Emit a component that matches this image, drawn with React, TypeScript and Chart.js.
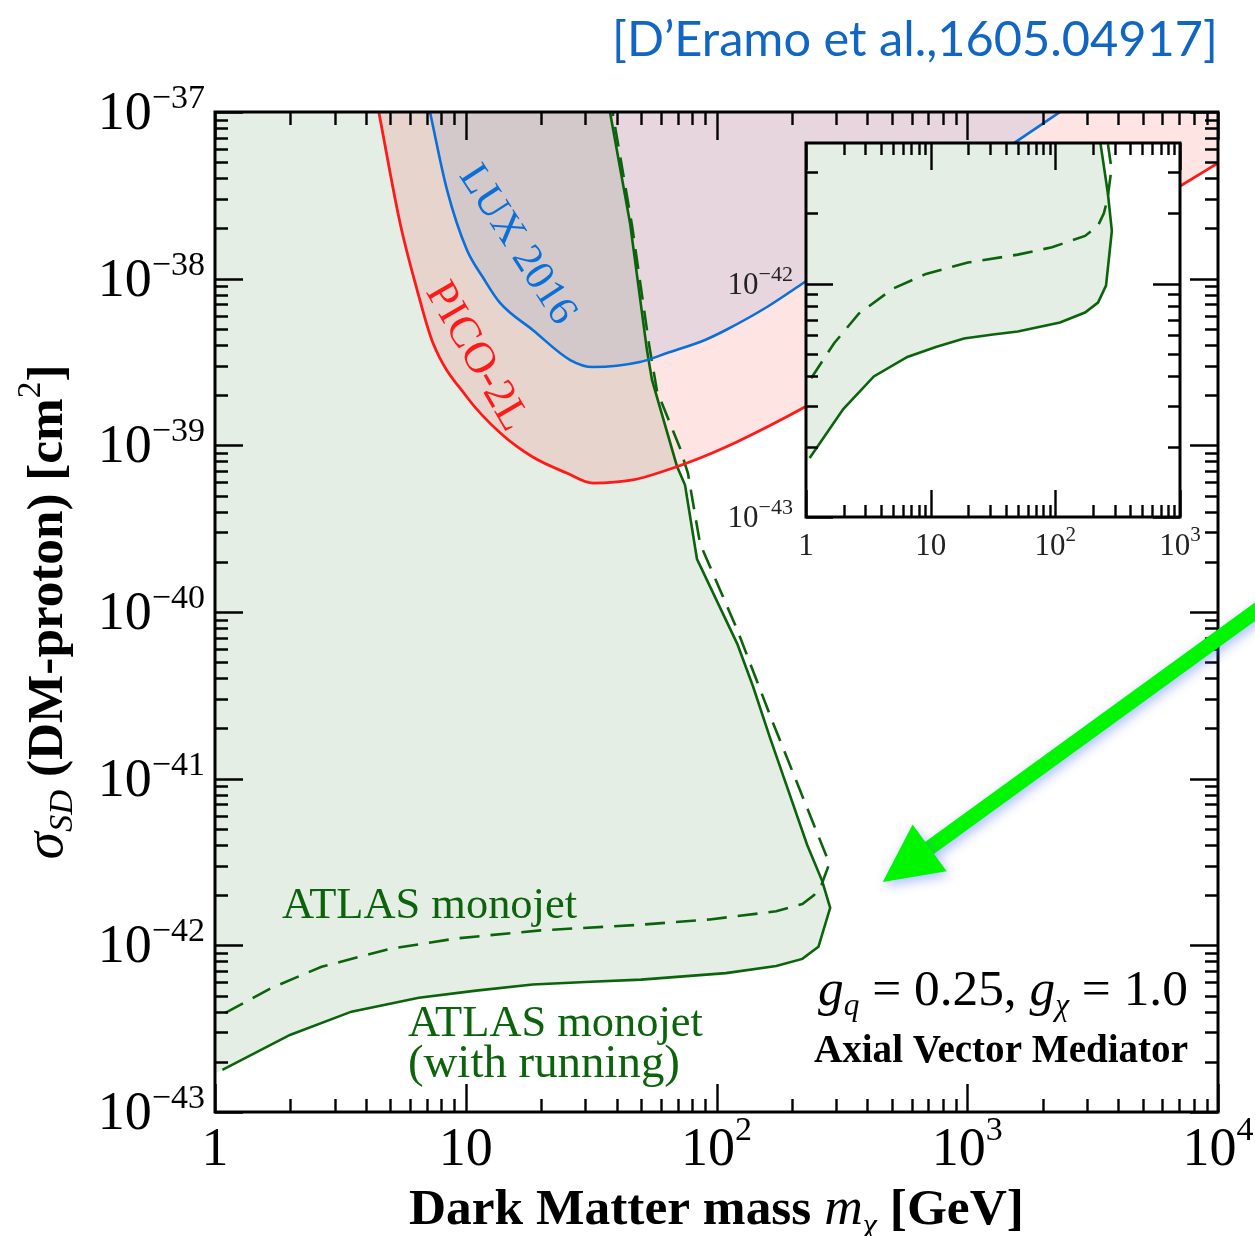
import React, { useEffect, useRef } from 'react';
import { Chart, registerables } from 'chart.js';

Chart.register(...registerables);

// ---- Limits on the spin-dependent DM-proton cross section (mass in GeV, sigma in cm^2) ----

// PICO-2L
const picoMass = [4.5, 5.47, 6.4, 7.4, 10.1, 13.7, 18.5, 25.3, 32.2, 46.4, 63.5, 86, 109, 159, 225, 1000, 3000, 7180, 10000];
const picoSigma = [1e-37, 2.16e-38, 8.55e-39, 4.11e-39, 1.95e-39, 1.19e-39, 8.51e-40, 6.82e-40, 5.94e-40, 6.2e-40, 7.11e-40, 8.4e-40, 9.77e-40, 1.29e-39, 1.7e-39, 6.4e-39, 1.68e-38, 3.65e-38, 4.94e-38];

// LUX 2016
const luxMass = [7.2, 8.42, 10.1, 11.7, 13.7, 18.5, 26.1, 32.2, 49.5, 63.5, 90, 109, 159, 225, 500, 1536, 2344];
const luxSigma = [1e-37, 3.41e-38, 1.49e-38, 1.02e-38, 7.15e-39, 4.92e-39, 3.25e-39, 2.95e-39, 3.16e-39, 3.58e-39, 4.29e-39, 4.92e-39, 6.76e-39, 9.55e-39, 2.12e-38, 6.5e-38, 1e-37];

// ATLAS monojet, with running of the couplings (solid)
const atlasRunMass = [1.07, 1.99, 3.5, 6.5, 11, 18.5, 31.6, 50, 109, 173, 220, 255, 284, 264, 230, 163, 140, 121, 83.6, 74.9, 69.5, 55.3, 52.8, 45.2, 37.6];
const atlasRunSigma = [1.79e-43, 2.9e-43, 4.0e-43, 4.85e-43, 5.35e-43, 5.82e-43, 6.05e-43, 6.23e-43, 6.81e-43, 7.51e-43, 8.29e-43, 9.8e-43, 1.68e-42, 2.43e-42, 4.0e-42, 1.78e-41, 3.56e-41, 6.44e-41, 2.08e-40, 5.78e-40, 7.52e-40, 2.47e-39, 3.73e-39, 2.16e-38, 1e-37];

// ATLAS monojet, no running (dashed)
const atlasMass = [1.1, 1.68, 2.66, 4.99, 9.17, 19.9, 50, 94, 173, 220, 245, 262, 282, 168, 121, 86, 83.6, 76.9, 71.5, 57.9, 54, 46, 38.5];
const atlasSigma = [3.93e-43, 5.55e-43, 7.44e-43, 9.52e-43, 1.1e-42, 1.23e-42, 1.33e-42, 1.43e-42, 1.6e-42, 1.77e-42, 2.0e-42, 2.3e-42, 3.1e-42, 2.16e-41, 7.82e-41, 2.57e-40, 3.28e-40, 6.82e-40, 9.64e-40, 2.12e-39, 3.9e-39, 2.1e-38, 1e-37];

// ---- Axis ticks ----
const xTickValues = [1, 10, 100, 1000, 10000];
const xTickLabels: [string, string][] = [['1', ''], ['10', ''], ['10', '2'], ['10', '3'], ['10', '4']];
const yTickValues = [1e-43, 1e-42, 1e-41, 1e-40, 1e-39, 1e-38, 1e-37];
const yTickExponents = ['−43', '−42', '−41', '−40', '−39', '−38', '−37'];

const insetXTickValues = [1, 10, 100, 1000];
const insetXTickLabels: [string, string][] = [['1', ''], ['10', ''], ['10', '2'], ['10', '3']];
const insetYTickValues = [1e-43, 1e-42];
const insetYTickExponents = ['−43', '−42'];
const insetYMax = 4e-42;

const SERIF = '"Liberation Serif", "Times New Roman", serif';
const GREEN_LINE = '#0b640b';
const RED_LINE = '#ff1a1a';
const BLUE_LINE = '#0a6fd8';

const pts = (xs: number[], ys: number[]) => xs.map((x, i) => ({ x, y: ys[i] }));

// minor ticks 2..9 inside every decade of a list of powers of ten
const minorsOf = (decades: number[], upTo: number) => {
  const out: number[] = [];
  for (const d of decades) for (let k = 2; k <= 9; k++) if (k * d < upTo * 0.999) out.push(k * d);
  return out;
};

type Run = { text: string; size: number; italic?: boolean; bold?: boolean; dy?: number; family?: string };

const runFont = (r: Run, k: number) =>
  `${r.italic ? 'italic ' : ''}${r.bold ? 'bold ' : ''}${(r.size * k).toFixed(2)}px ${r.family ?? SERIF}`;

function drawRuns(ctx: CanvasRenderingContext2D, runs: Run[], x: number, y: number, align: 'left' | 'center' | 'right', width?: number) {
  ctx.save();
  ctx.textAlign = 'left';
  ctx.textBaseline = 'alphabetic';
  let total = 0;
  for (const r of runs) {
    ctx.font = runFont(r, 1);
    total += ctx.measureText(r.text).width;
  }
  const k = width ? width / total : 1;
  const w = total * k;
  let cx = align === 'left' ? x : align === 'center' ? x - w / 2 : x - w;
  for (const r of runs) {
    ctx.font = runFont(r, k);
    ctx.fillText(r.text, cx, y + (r.dy ?? 0) * k);
    cx += ctx.measureText(r.text).width;
  }
  ctx.restore();
}

function drawFrameTicks(chart: any, xMaj: number[], xMin: number[], yMaj: number[], yMin: number[], majLen: number, minLen: number) {
  const { ctx, chartArea: a, scales } = chart;
  const sx = scales.x;
  const sy = scales.y;
  ctx.save();
  ctx.strokeStyle = '#000';
  ctx.lineWidth = 2.4;
  ctx.beginPath();
  const xt = (v: number, len: number) => {
    const p = Math.round(sx.getPixelForValue(v)) + 0.5;
    ctx.moveTo(p, a.bottom);
    ctx.lineTo(p, a.bottom - len);
    ctx.moveTo(p, a.top);
    ctx.lineTo(p, a.top + len);
  };
  const yt = (v: number, len: number) => {
    const p = Math.round(sy.getPixelForValue(v)) + 0.5;
    ctx.moveTo(a.left, p);
    ctx.lineTo(a.left + len, p);
    ctx.moveTo(a.right, p);
    ctx.lineTo(a.right - len, p);
  };
  xMaj.forEach((v) => xt(v, majLen));
  xMin.forEach((v) => xt(v, minLen));
  yMaj.forEach((v) => yt(v, majLen));
  yMin.forEach((v) => yt(v, minLen));
  ctx.stroke();
  ctx.lineWidth = 3;
  ctx.strokeRect(a.left, a.top, a.right - a.left, a.bottom - a.top);
  ctx.restore();
}

// green ATLAS excluded region: solid curve closed along the left edge of the plot
const atlasRegion = [...pts(atlasRunMass, atlasRunSigma), { x: 1, y: 1e-37 }, { x: 1, y: 1.7e-43 }];

const atlasDatasets = () => [
  {
    data: atlasRegion,
    showLine: true,
    fill: 'shape',
    backgroundColor: 'rgba(0, 94, 0, 0.106)',
    borderColor: 'rgba(0,0,0,0)',
    borderWidth: 0,
    pointRadius: 0,
  },
  {
    data: pts(atlasMass, atlasSigma),
    showLine: true,
    fill: false,
    borderColor: GREEN_LINE,
    borderWidth: 2.6,
    borderDash: [20, 11],
    pointRadius: 0,
  },
  {
    data: pts(atlasRunMass, atlasRunSigma),
    showLine: true,
    fill: false,
    borderColor: GREEN_LINE,
    borderWidth: 2.6,
    pointRadius: 0,
  },
];

const mainDecorations = {
  id: 'mainDecorations',
  afterDraw(chart: any) {
    const { ctx, chartArea: a, scales } = chart;
    const sx = scales.x;
    const sy = scales.y;
    const X = (v: number) => sx.getPixelForValue(v);
    const Y = (v: number) => sy.getPixelForValue(v);

    drawFrameTicks(chart, xTickValues, minorsOf(xTickValues, 1e4), yTickValues, minorsOf(yTickValues, 1e-37), 28, 13);

    ctx.save();
    ctx.fillStyle = '#000';
    // tick labels
    yTickValues.forEach((v, i) => {
      const p = Y(v);
      drawRuns(ctx, [{ text: '10', size: 54 }, { text: yTickExponents[i], size: 34, dy: -21 }], a.left - 10, p + 17, 'right');
    });
    xTickValues.forEach((v, i) => {
      const [b, e] = xTickLabels[i];
      const runs: Run[] = [{ text: b, size: 54 }];
      if (e) runs.push({ text: e, size: 34, dy: -25 });
      drawRuns(ctx, runs, X(v), a.bottom + 53, 'center');
    });

    // axis titles
    drawRuns(
      ctx,
      [
        { text: 'Dark Matter mass ', size: 48, bold: true },
        { text: 'm', size: 50, italic: true },
        { text: 'χ', size: 30, italic: true, dy: 10 },
        { text: ' [GeV]', size: 48, bold: true },
      ],
      (a.left + a.right) / 2,
      a.bottom + 112,
      'center',
      615
    );
    ctx.save();
    ctx.translate(62, (a.top + a.bottom) / 2);
    ctx.rotate(-Math.PI / 2);
    drawRuns(
      ctx,
      [
        { text: 'σ', size: 50, italic: true },
        { text: 'SD', size: 31, italic: true, dy: 9 },
        { text: ' (DM-proton) [cm', size: 46, bold: true },
        { text: '2', size: 30, dy: -20 },
        { text: ']', size: 46, bold: true },
      ],
      0,
      0,
      'center',
      495
    );
    ctx.restore();

    // reference tag
    ctx.fillStyle = '#1166c4';
    drawRuns(ctx, [{ text: '[D’Eramo et al.,1605.04917]', size: 50, family: 'Lato, "Open Sans", sans-serif' }], a.right, 56, 'right', 606);

    // curve labels
    const rotated = (text: string, mx: number, my: number, deg: number, size: number, color: string) => {
      ctx.save();
      ctx.translate(X(mx), Y(my));
      ctx.rotate((deg * Math.PI) / 180);
      ctx.fillStyle = color;
      ctx.font = `${size}px ${SERIF}`;
      ctx.textAlign = 'center';
      ctx.textBaseline = 'middle';
      ctx.fillText(text, 0, 0);
      ctx.restore();
    };
    rotated('LUX 2016', 16, 1.59e-38, 57, 42, BLUE_LINE);
    rotated('PICO-2L', 11.0, 3.4e-39, 60, 44, RED_LINE);

    ctx.fillStyle = GREEN_LINE;
    drawRuns(ctx, [{ text: 'ATLAS monojet', size: 44 }], X(1.85), Y(1.46e-42), 'left', 295);
    drawRuns(ctx, [{ text: 'ATLAS monojet', size: 44 }], X(5.88), Y(2.86e-43), 'left', 295);
    drawRuns(ctx, [{ text: '(with running)', size: 44 }], X(5.88), Y(2.86e-43) + 41, 'left', 272);

    ctx.fillStyle = '#000';
    drawRuns(
      ctx,
      [
        { text: 'g', size: 46, italic: true },
        { text: 'q', size: 28, italic: true, dy: 9 },
        { text: ' = 0.25, ', size: 46 },
        { text: 'g', size: 46, italic: true },
        { text: 'χ', size: 28, italic: true, dy: 9 },
        { text: ' = 1.0', size: 46 },
      ],
      X(7590),
      Y(4.4e-43),
      'right',
      370
    );
    drawRuns(ctx, [{ text: 'Axial Vector Mediator', size: 36, bold: true }], X(7590), Y(2.0e-43), 'right', 374);

    // green arrow pointing at the turnover of the ATLAS curves
    const tail = { x: X(14000), y: Y(1e-40) };
    const tip = { x: X(460), y: Y(2.4e-42) };
    const dx = tip.x - tail.x;
    const dy = tip.y - tail.y;
    const len = Math.hypot(dx, dy);
    const ux = dx / len;
    const uy = dy / len;
    const headL = 58;
    const headW = 29;
    const bx = tip.x - ux * headL;
    const by = tip.y - uy * headL;
    ctx.save();
    ctx.shadowColor = 'rgba(70, 110, 255, 0.45)';
    ctx.shadowBlur = 12;
    ctx.shadowOffsetX = 2;
    ctx.shadowOffsetY = 4;
    ctx.fillStyle = '#00f500';
    ctx.strokeStyle = '#00f500';
    ctx.lineWidth = 15;
    ctx.lineCap = 'butt';
    ctx.beginPath();
    ctx.moveTo(tail.x - ux * 30, tail.y - uy * 30);
    ctx.lineTo(bx + ux * 4, by + uy * 4);
    ctx.stroke();
    ctx.beginPath();
    ctx.moveTo(tip.x, tip.y);
    ctx.lineTo(bx - uy * headW, by + ux * headW);
    ctx.lineTo(bx + uy * headW, by - ux * headW);
    ctx.closePath();
    ctx.fill();
    ctx.restore();

    ctx.restore();
  },
};

const insetDecorations = {
  id: 'insetDecorations',
  beforeDraw(chart: any) {
    const { ctx, chartArea: a } = chart;
    ctx.save();
    ctx.fillStyle = '#fff';
    ctx.fillRect(a.left, a.top, a.right - a.left, a.bottom - a.top);
    ctx.restore();
  },
  afterDraw(chart: any) {
    const { ctx, chartArea: a, scales } = chart;
    const yMinors = minorsOf(insetYTickValues, insetYMax).concat([2e-42, 3e-42]);
    drawFrameTicks(chart, insetXTickValues, minorsOf(insetXTickValues, 1000), insetYTickValues, yMinors, 27, 12);
    ctx.save();
    ctx.fillStyle = '#222';
    insetYTickValues.forEach((v, i) => {
      const p = scales.y.getPixelForValue(v);
      drawRuns(ctx, [{ text: '10', size: 31 }, { text: insetYTickExponents[i], size: 22, dy: -13 }], a.left - 13, p + 10, 'right');
    });
    insetXTickValues.forEach((v, i) => {
      const [b, e] = insetXTickLabels[i];
      const runs: Run[] = [{ text: b, size: 31 }];
      if (e) runs.push({ text: e, size: 21, dy: -14 });
      drawRuns(ctx, runs, scales.x.getPixelForValue(v), a.bottom + 38, 'center');
    });
    ctx.restore();
  },
};

export default function App() {
  const mainRef = useRef<HTMLCanvasElement>(null);
  const insetRef = useRef<HTMLCanvasElement>(null);

  useEffect(() => {
    const hiddenAxis = (min: number, max: number, fit: (s: any) => void) => ({
      type: 'logarithmic' as const,
      min,
      max,
      ticks: { display: false },
      grid: { display: false },
      border: { display: false },
      afterFit: fit,
    });

    const main = new Chart(mainRef.current as HTMLCanvasElement, {
      type: 'scatter',
      data: {
        datasets: [
          {
            data: pts(picoMass, picoSigma),
            showLine: true,
            fill: 'end',
            cubicInterpolationMode: 'monotone',
            backgroundColor: 'rgba(255, 0, 0, 0.105)',
            borderColor: RED_LINE,
            borderWidth: 2.8,
            pointRadius: 0,
          },
          {
            data: pts(luxMass, luxSigma),
            showLine: true,
            fill: 'end',
            cubicInterpolationMode: 'monotone',
            backgroundColor: 'rgba(0, 105, 207, 0.1)',
            borderColor: BLUE_LINE,
            borderWidth: 2.6,
            pointRadius: 0,
          },
          ...atlasDatasets(),
        ] as any,
      },
      options: {
        responsive: false,
        animation: false,
        devicePixelRatio: 1,
        events: [],
        layout: { padding: { left: 0, top: 112, right: 37, bottom: 0 } },
        scales: {
          x: hiddenAxis(1, 1e4, (s) => { s.height = 124; }),
          y: hiddenAxis(1e-43, 1e-37, (s) => { s.width = 215; }),
        } as any,
        plugins: {
          legend: { display: false },
          tooltip: { enabled: false },
          filler: { drawTime: 'beforeDatasetsDraw' },
        } as any,
      },
      plugins: [mainDecorations],
    });

    const inset = new Chart(insetRef.current as HTMLCanvasElement, {
      type: 'scatter',
      data: { datasets: atlasDatasets() as any },
      options: {
        responsive: false,
        animation: false,
        devicePixelRatio: 1,
        events: [],
        layout: { padding: { left: 0, top: 23, right: 60, bottom: 0 } },
        scales: {
          x: hiddenAxis(1, 1000, (s) => { s.height = 53; }),
          y: hiddenAxis(1e-43, insetYMax, (s) => { s.width = 106; }),
        } as any,
        plugins: {
          legend: { display: false },
          tooltip: { enabled: false },
          filler: { drawTime: 'beforeDatasetsDraw' },
        } as any,
      },
      plugins: [insetDecorations],
    });

    return () => {
      main.destroy();
      inset.destroy();
    };
  }, []);

  return (
    <div style={{ position: 'absolute', left: 0, top: 0, width: 1255, height: 1236, background: '#fff' }}>
      <canvas ref={mainRef} width={1255} height={1236} style={{ position: 'absolute', left: 0, top: 0 }} />
      <canvas ref={insetRef} width={540} height={450} style={{ position: 'absolute', left: 700, top: 120 }} />
    </div>
  );
}
